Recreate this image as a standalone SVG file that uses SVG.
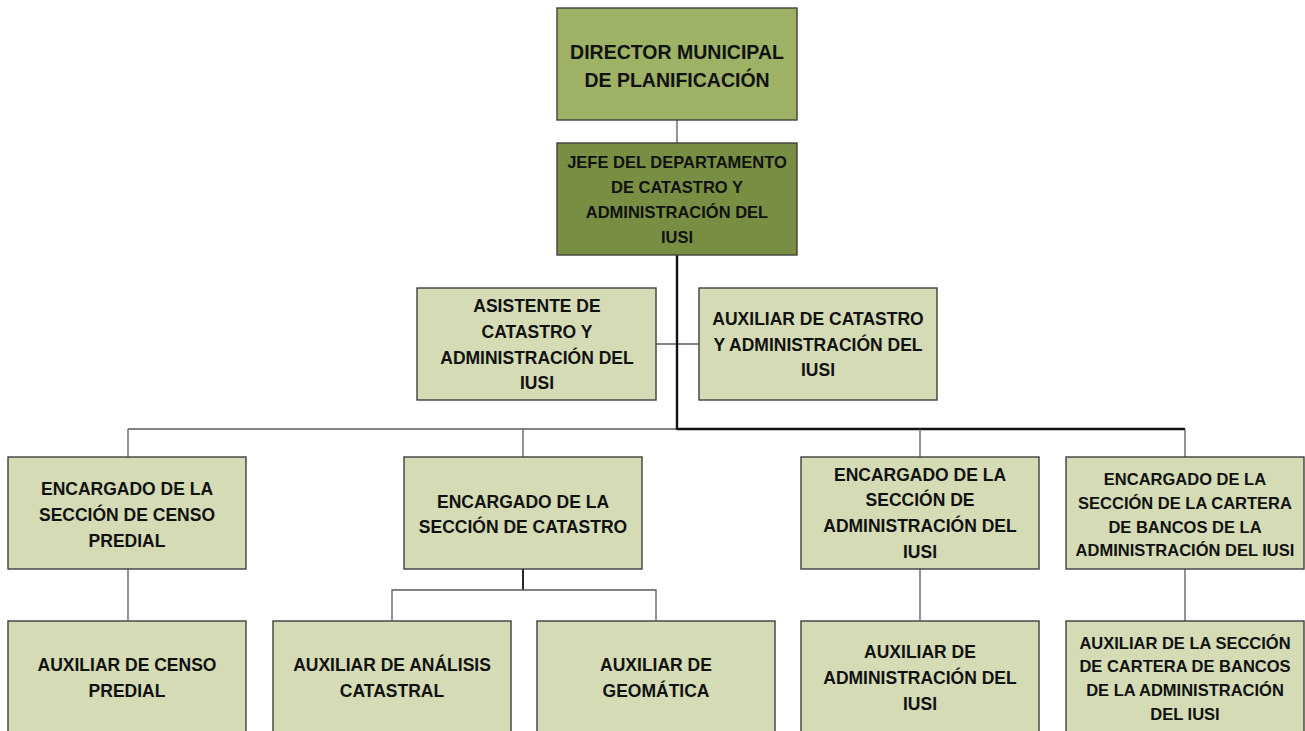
<svg xmlns="http://www.w3.org/2000/svg" width="1305" height="731" viewBox="0 0 1305 731">
<style>
.box{fill:#D4DBB5;stroke:#3f3f3f;stroke-width:1.4}
.dir{fill:#9DB265;stroke:#3f3f3f;stroke-width:1.4}
.jefe{fill:#788F43;stroke:#3f3f3f;stroke-width:1.4}
text{font-family:"Liberation Sans",Arial,sans-serif;font-weight:bold;fill:#111;text-anchor:middle;font-size:17.5px}
.t19{font-size:19.5px}
.t16{font-size:16.5px}
.c{fill:none;stroke:#5a5a5a;stroke-width:1.3}
.trunk{fill:none;stroke:#111;stroke-width:2.4}
</style>
<rect width="1305" height="731" fill="#fff"/>
<g id="connectors">
<line class="c" x1="677" y1="120" x2="677" y2="143"/>
<line class="c" x1="656" y1="344" x2="699" y2="344"/>
<line class="c" x1="128" y1="429" x2="677" y2="429"/>
<line class="trunk" x1="677" y1="429" x2="1185" y2="429"/>
<line class="trunk" x1="677" y1="255" x2="677" y2="430"/>
<line class="c" x1="128" y1="429" x2="128" y2="457"/>
<line class="c" x1="523" y1="429" x2="523" y2="457"/>
<line class="c" x1="920" y1="429" x2="920" y2="457"/>
<line class="c" x1="1185" y1="429" x2="1185" y2="457"/>
<line class="c" x1="128" y1="569" x2="128" y2="621"/>
<line class="trunk" x1="523" y1="569" x2="523" y2="590" style="stroke-width:1.8"/>
<polyline class="c" points="392,621 392,590 656,590 656,621"/>
<line class="c" x1="920" y1="569" x2="920" y2="621"/>
<line class="c" x1="1185" y1="569" x2="1185" y2="621"/>
</g>
<g id="director">
<rect class="dir" x="557" y="8" width="240" height="112"/>
<text class="t19" x="677" y="59">DIRECTOR MUNICIPAL</text>
<text class="t19" x="677" y="87">DE PLANIFICACIÓN</text>
</g>
<g id="jefe">
<rect class="jefe" x="557" y="143" width="240" height="112"/>
<text class="t16" x="677" y="168">JEFE DEL DEPARTAMENTO</text>
<text class="t16" x="677" y="193">DE CATASTRO Y</text>
<text class="t16" x="677" y="218">ADMINISTRACIÓN DEL</text>
<text class="t16" x="677" y="243">IUSI</text>
</g>
<g id="asistente">
<rect class="box" x="417" y="288" width="239" height="112"/>
<text x="537" y="312">ASISTENTE DE</text>
<text x="537" y="338">CATASTRO Y</text>
<text x="537" y="364">ADMINISTRACIÓN DEL</text>
<text x="537" y="389">IUSI</text>
</g>
<g id="auxiliar-catastro">
<rect class="box" x="699" y="288" width="238" height="112"/>
<text x="818" y="325">AUXILIAR DE CATASTRO</text>
<text x="818" y="351">Y ADMINISTRACIÓN DEL</text>
<text x="818" y="376">IUSI</text>
</g>
<g id="encargado-censo">
<rect class="box" x="8" y="457" width="238" height="112"/>
<text x="127" y="495">ENCARGADO DE LA</text>
<text x="127" y="521">SECCIÓN DE CENSO</text>
<text x="127" y="547">PREDIAL</text>
</g>
<g id="encargado-catastro">
<rect class="box" x="404" y="457" width="238" height="112"/>
<text x="523" y="508">ENCARGADO DE LA</text>
<text x="523" y="533">SECCIÓN DE CATASTRO</text>
</g>
<g id="encargado-admin">
<rect class="box" x="801" y="457" width="238" height="112"/>
<text x="920" y="481">ENCARGADO DE LA</text>
<text x="920" y="506">SECCIÓN DE</text>
<text x="920" y="532">ADMINISTRACIÓN DEL</text>
<text x="920" y="558">IUSI</text>
</g>
<g id="encargado-cartera">
<rect class="box" x="1066" y="457" width="238" height="112"/>
<text class="t16" x="1185" y="485">ENCARGADO DE LA</text>
<text class="t16" x="1185" y="509">SECCIÓN DE LA CARTERA</text>
<text class="t16" x="1185" y="533">DE BANCOS DE LA</text>
<text class="t16" x="1185" y="556">ADMINISTRACIÓN DEL IUSI</text>
</g>
<g id="auxiliar-censo">
<rect class="box" x="8" y="621" width="238" height="113"/>
<text x="127" y="671">AUXILIAR DE CENSO</text>
<text x="127" y="697">PREDIAL</text>
</g>
<g id="auxiliar-analisis">
<rect class="box" x="273" y="621" width="238" height="113"/>
<text x="392" y="671">AUXILIAR DE ANÁLISIS</text>
<text x="392" y="697">CATASTRAL</text>
</g>
<g id="auxiliar-geomatica">
<rect class="box" x="537" y="621" width="238" height="113"/>
<text x="656" y="671">AUXILIAR DE</text>
<text x="656" y="697">GEOMÁTICA</text>
</g>
<g id="auxiliar-admin">
<rect class="box" x="801" y="621" width="238" height="113"/>
<text x="920" y="658">AUXILIAR DE</text>
<text x="920" y="684">ADMINISTRACIÓN DEL</text>
<text x="920" y="710">IUSI</text>
</g>
<g id="auxiliar-cartera">
<rect class="box" x="1066" y="621" width="238" height="113"/>
<text class="t16" x="1185" y="649">AUXILIAR DE LA SECCIÓN</text>
<text class="t16" x="1185" y="672">DE CARTERA DE BANCOS</text>
<text class="t16" x="1185" y="696">DE LA ADMINISTRACIÓN</text>
<text class="t16" x="1185" y="720">DEL IUSI</text>
</g>
</svg>
